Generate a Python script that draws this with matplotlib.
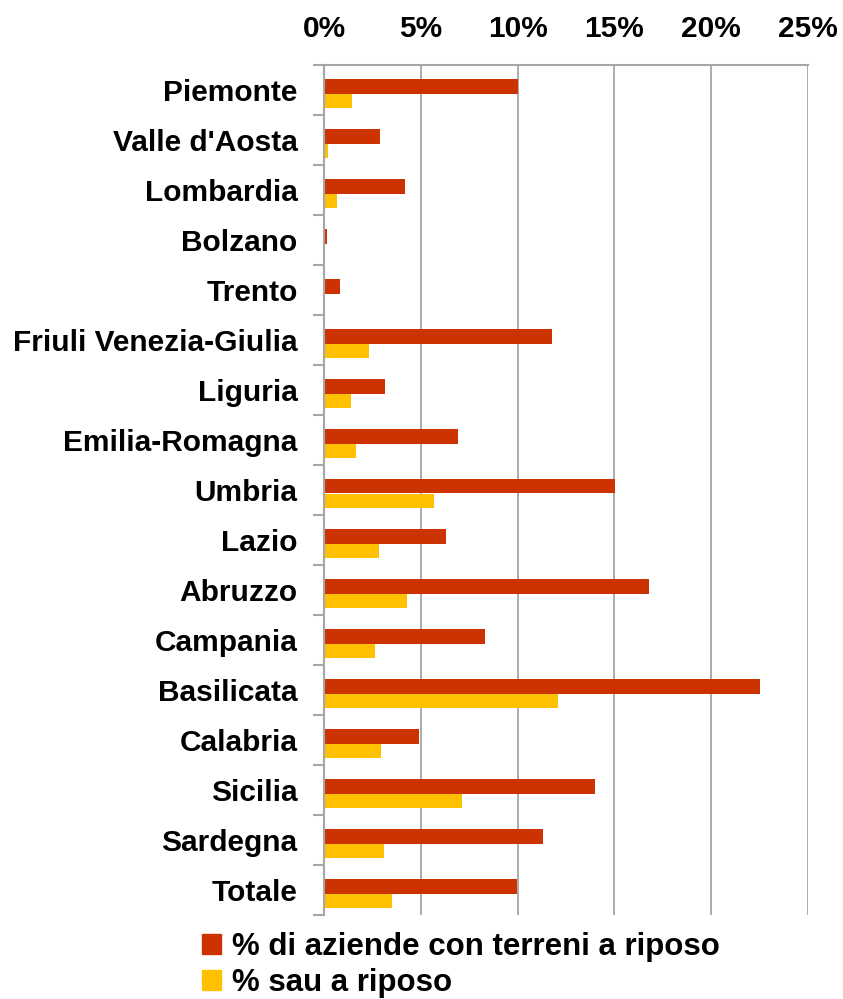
import matplotlib
matplotlib.use("Agg")
import matplotlib.pyplot as plt
import numpy as np
from matplotlib.ticker import FuncFormatter, FixedLocator

regions = ["Piemonte", "Valle d'Aosta", "Lombardia", "Bolzano", "Trento",
           "Friuli Venezia-Giulia", "Liguria", "Emilia-Romagna", "Umbria",
           "Lazio", "Abruzzo", "Campania", "Basilicata", "Calabria",
           "Sicilia", "Sardegna", "Totale"]
aziende = [10.0, 2.9, 4.2, 0.15, 0.85, 11.8, 3.15, 6.9, 15.05, 6.3, 16.8,
           8.3, 22.5, 4.9, 14.0, 11.3, 9.95]
sau = [1.45, 0.2, 0.65, 0.05, 0.05, 2.3, 1.4, 1.65, 5.7, 2.85, 4.3,
       2.65, 12.1, 2.95, 7.15, 3.1, 3.5]
series_names = ["% di aziende con terreni a riposo", "% sau a riposo"]
xticks = [0, 5, 10, 15, 20, 25]

RED = "#CC3300"
YEL = "#FFC000"
GRID = "#A6A6A6"

plt.rcParams['font.family'] = ['Liberation Sans', 'DejaVu Sans']
plt.rcParams['font.weight'] = 'bold'

fig = plt.figure(figsize=(8.43, 9.99), dpi=100)
W, H = 843, 999
ax = fig.add_axes([324 / W, 1 - 915 / H, (808 - 324) / W, (915 - 65) / H])

n = len(regions)
y = np.arange(n)
h = 0.29
ax.barh(y - h / 2 + 0.07, aziende, height=h, color=RED, zorder=3)
ax.barh(y + h / 2 + 0.07, sau, height=h, color=YEL, zorder=3)

ax.set_xlim(0, 25)
ax.set_ylim(n - 0.5, -0.5)
ax.xaxis.set_major_locator(FixedLocator(xticks))
ax.xaxis.set_major_formatter(FuncFormatter(lambda v, p: f"{int(v)}%"))
ax.xaxis.tick_top()
ax.tick_params(axis='x', length=0, labelsize=21.5, pad=16)
ax.set_yticks(y)
ax.set_yticklabels(regions, fontsize=21.5)
ax.tick_params(axis='y', which='major', length=0, pad=19)
ax.set_yticks(np.arange(-0.5, n, 1.0), minor=True)
ax.tick_params(axis='y', which='minor', length=8, width=1.5, color=GRID, direction='out')

ax.grid(axis='x', color=GRID, linewidth=1.3, zorder=0)
for s in ['right', 'bottom']:
    ax.spines[s].set_visible(False)
ax.spines['left'].set_color(GRID)
ax.spines['left'].set_linewidth(1.5)
ax.spines['top'].set_color(GRID)
ax.spines['top'].set_linewidth(1.5)
ax.spines['left'].set_zorder(4)

handles = [plt.Rectangle((0, 0), 1, 1, color=RED), plt.Rectangle((0, 0), 1, 1, color=YEL)]
fig.legend(handles, series_names, loc='upper left', bbox_to_anchor=(202 / W, 1 - 932 / H),
           frameon=False, fontsize=22.5, handlelength=0.6, handleheight=0.6,
           handletextpad=0.35, labelspacing=0.2, borderpad=0, borderaxespad=0)

fig.savefig("out.png", dpi=100)
